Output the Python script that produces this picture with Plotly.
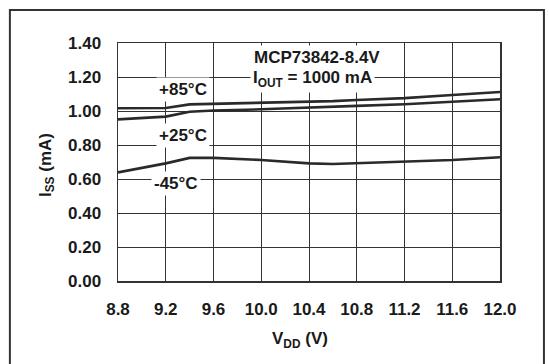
import plotly.graph_objects as go

vdd = [8.8, 9.2, 9.4, 9.6, 10.0, 10.4, 10.6, 10.8, 11.2, 11.6, 12.0]
iss_85 = [1.016, 1.018, 1.039, 1.042, 1.046, 1.053, 1.058, 1.065, 1.076, 1.094, 1.112]
iss_25 = [0.951, 0.967, 0.996, 1.003, 1.010, 1.018, 1.024, 1.030, 1.040, 1.055, 1.069]
iss_m45 = [0.639, 0.692, 0.724, 0.724, 0.712, 0.692, 0.688, 0.692, 0.700, 0.712, 0.728]

x_ticks = [8.8, 9.2, 9.6, 10.0, 10.4, 10.8, 11.2, 11.6, 12.0]
y_ticks = [0.0, 0.2, 0.4, 0.6, 0.8, 1.0, 1.2, 1.4]

FONT = "Liberation Sans, Arial, sans-serif"
LINE = "#2a2a2a"
TXT = "#1a1a1a"
FS = 17

fig = go.Figure()
for ys in (iss_85, iss_25, iss_m45):
    fig.add_trace(go.Scatter(x=vdd, y=ys, mode="lines",
                             line=dict(color=LINE, width=2.6), showlegend=False,
                             hoverinfo="skip"))

def lbl(x, y, text, bg="white", angle=0):
    fig.add_annotation(x=x, y=y, xref="paper", yref="paper", text="<b>" + text + "</b>",
                       xanchor="center", yanchor="middle", textangle=angle,
                       showarrow=False, bgcolor=bg, borderpad=2,
                       font=dict(family=FONT, size=FS, color=TXT))

lbl(0.521, 0.941, "MCP73842-8.4V")
lbl(0.51, 0.849, "I<sub>OUT</sub> = 1000 mA")
lbl(0.17, 0.803, "+85°C")
lbl(0.17, 0.613, "+25°C")
lbl(0.152, 0.408, "-45°C")
lbl(0.476, -0.248, "V<sub>DD</sub> (V)", bg="rgba(0,0,0,0)")
lbl(-0.186, 0.487, "I<sub>SS</sub> (mA)", bg="rgba(0,0,0,0)", angle=-90)

# outer frame
fig.add_shape(type="rect", xref="paper", yref="paper",
              x0=-0.283, x1=1.115, y0=-0.40, y1=1.139,
              line=dict(color="#333333", width=2), fillcolor="rgba(0,0,0,0)")

axis_common = dict(showgrid=True, gridcolor="#333333", gridwidth=1, griddash="solid",
                   showline=True, linecolor="#333333", linewidth=1.5, mirror=True,
                   ticklabelstandoff=12,
                   tickfont=dict(family=FONT, size=FS, color=TXT), zeroline=False)
fig.update_xaxes(range=[8.8, 12.0], tickvals=x_ticks,
                 ticktext=["<b>%.1f</b>" % v for v in x_ticks], **axis_common)
fig.update_yaxes(range=[0, 1.4], tickvals=y_ticks,
                 ticktext=["<b>%.2f</b>" % v for v in y_ticks], **axis_common)

fig.update_layout(width=549, height=364, margin=dict(l=118, r=49, t=43, b=83),
                  paper_bgcolor="white", plot_bgcolor="white", showlegend=False,
                  hovermode=False)

fig.write_html("out.html", config={"displayModeBar": False, "staticPlot": True},
               post_script="document.body.style.margin='0';document.body.style.overflow='hidden';")
